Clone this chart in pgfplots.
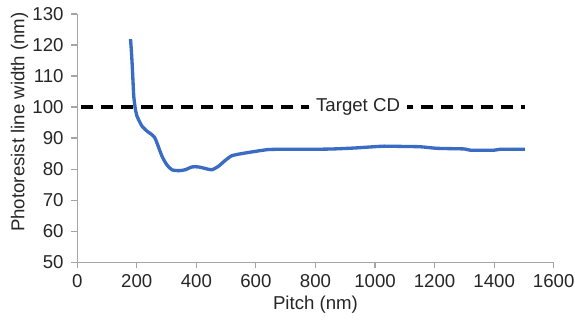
\documentclass[border=0pt]{standalone}
\usepackage{pgfplots}
\pgfplotsset{compat=1.18}
\usetikzlibrary{calc}
\usepackage{fontspec}
\setmainfont{Liberation Sans}
\definecolor{lineblue}{RGB}{58,108,196}
\definecolor{axgray}{RGB}{165,165,165}
\begin{document}
\begin{tikzpicture}
\begin{axis}[
  name=ax,
  scale only axis,
  width=358pt, height=186.5pt,
  xmin=0, xmax=1600, ymin=50, ymax=130,
  xtick={0,200,...,1600},
  ytick={50,60,...,130},
  axis x line=bottom, axis y line=left,
  axis line style={axgray, line width=0.9pt, -},
  tick style={axgray, line width=0.9pt},
  tick align=outside,
  major tick length=4.3pt,
  /pgf/number format/assume math mode=true,
  /pgf/number format/1000 sep={},
  tick label style={font=\fontsize{14}{16}\selectfont, text=black!85},
  label style={font=\fontsize{14}{16}\selectfont, text=black!85},
  xticklabel style={anchor=base, yshift=-14.5pt},
  yticklabel style={xshift=-2.4pt},
  xlabel={Pitch (nm)},
  ylabel={Photoresist line width (nm)},
  xlabel style={at={(axis description cs:0.5,0)}, anchor=base, yshift=-35.5pt},
  ylabel style={at={([xshift=-43.4pt,yshift=12pt]axis description cs:0,0.5)}, anchor=center},
  clip=false,
]
\addplot[black, line width=2.6pt, dash pattern=on 9pt off 6pt] coordinates {(14,100) (1504,100)};
\node[fill=white, inner xsep=5pt, inner ysep=1pt, anchor=base, font=\fontsize{14}{16}\selectfont, text=black!85] at (axis cs:943,98.6) {Target CD};
\addplot[lineblue, line width=2.5pt, smooth, tension=0.4] coordinates {
(179,121.9) (182,118) (185,113) (188,107) (190,103.4) (195,99.5) (201,97) (210,95.2) (218,93.8) (235,92.2) (251,91.1) (260,90.2) (268,88.4) (285,84.1) (301,81.4) (318,79.8) (341,79.5) (363,79.8) (385,80.7) (407,80.7) (430,80.2) (452,79.8) (474,80.9) (497,82.8) (519,84.3) (552,85) (597,85.7) (641,86.3) (686,86.4) (730,86.4) (800,86.4) (860,86.5) (930,86.8) (1009,87.3) (1030,87.4) (1100,87.3) (1153,87.2) (1209,86.7) (1300,86.5) (1320,86.1) (1400,86.1) (1420,86.4) (1503,86.4)
};
\end{axis}
\pgfresetboundingbox
\path[use as bounding box] ($(ax.south west)+(-58pt,-43pt)$) rectangle ($(ax.north east)+(16pt,10.5pt)$);
\end{tikzpicture}
\end{document}
